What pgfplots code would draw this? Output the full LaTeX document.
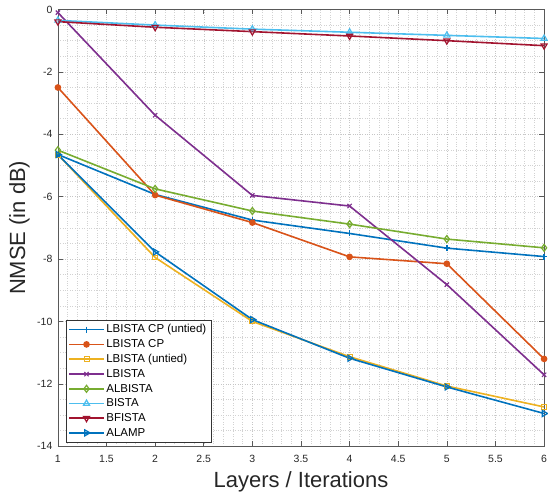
\documentclass[border=0pt]{standalone}
\usepackage{pgfplots}
\pgfplotsset{compat=1.18}
\usepackage{fontspec}
\setmainfont{Liberation Sans}
\definecolor{c1}{rgb}{0,0.447,0.741}
\definecolor{c2}{rgb}{0.85,0.325,0.098}
\definecolor{c3}{rgb}{0.929,0.694,0.125}
\definecolor{c4}{rgb}{0.494,0.184,0.556}
\definecolor{c5}{rgb}{0.466,0.674,0.188}
\definecolor{c6}{rgb}{0.301,0.745,0.933}
\definecolor{c7}{rgb}{0.635,0.078,0.184}
\begin{document}
\begin{tikzpicture}
\begin{axis}[
  name=ax,
  scale only axis,
  width=487pt, height=437.5pt,
  xmin=1, xmax=6, ymin=-14, ymax=0,
  xtick={1,1.5,...,6},
  ytick={-14,-12,...,0},
  minor x tick num=4,
  minor y tick num=3,
  grid=both,
  major grid style={gray!45, dotted, line width=0.5pt},
  minor grid style={gray!35, dotted, line width=0.4pt},
  axis line style={gray!70!black, line width=0.6pt},
  tick style={gray!70!black, line width=0.6pt},
  minor tick length=0pt,
  major tick length=5pt,
  tick align=inside,
  xtick pos=both, ytick pos=both,
  tick label style={font=\fontsize{10.5}{12}\selectfont, text=black!85},
  xticklabel style={inner sep=1pt, yshift=-8pt},
  yticklabel style={xshift=-2pt},
  /pgf/number format/assume math mode=true,
  xlabel={Layers / Iterations},
  ylabel={NMSE (in dB)},
  every axis x label/.style={at={([yshift=-36pt]axis description cs:0.5,0)}, anchor=center},
  every axis y label/.style={at={([xshift=-38.5pt]axis description cs:0,0.5)}, anchor=center, rotate=90},
  label style={font=\fontsize{22}{26}\selectfont, text=black!85},
  legend style={at={(0.0165,0.009)}, anchor=south west, font=\fontsize{11.5}{13}\selectfont,
    draw=black!80, line width=0.5pt, row sep=1.2pt, inner sep=2.5pt, cells={anchor=west}},
  legend image code/.code={\draw[mark repeat=2,mark phase=2] plot coordinates {(0cm,0cm) (0.6cm,0cm) (1.2cm,0cm)};},
  legend cell align=left,
  every axis plot/.append style={line width=1.6pt, mark size=3pt},
]
\addplot[c1, mark=+, mark options={line width=1.4pt}] coordinates {(1,-4.65) (2,-5.93) (3,-6.75) (4,-7.18) (5,-7.65) (6,-7.92)};
\addlegendentry{LBISTA CP (untied)}
\addplot[c2, mark=*, mark options={fill=c2}, mark size=2.5pt] coordinates {(1,-2.5) (2,-5.95) (3,-6.83) (4,-7.93) (5,-8.15) (6,-11.2)};
\addlegendentry{LBISTA CP}
\addplot[c3, mark=square, mark size=2.5pt, mark options={line width=1pt}] coordinates {(1,-4.65) (2,-7.95) (3,-10.0) (4,-11.13) (5,-12.07) (6,-12.74)};
\addlegendentry{LBISTA (untied)}
\addplot[c4, mark=x, mark options={line width=1.2pt}] coordinates {(1,-0.1) (2,-3.39) (3,-5.96) (4,-6.3) (5,-8.82) (6,-11.71)};
\addlegendentry{LBISTA}
\addplot[c5, mark=diamond, mark size=3.5pt, mark options={line width=1.2pt}] coordinates {(1,-4.51) (2,-5.75) (3,-6.46) (4,-6.88) (5,-7.36) (6,-7.64)};
\addlegendentry{ALBISTA}
\addplot[c6, mark=triangle, mark size=3.5pt, mark options={line width=1.2pt}] coordinates {(1,-0.35) (2,-0.5) (3,-0.63) (4,-0.73) (5,-0.83) (6,-0.93)};
\addlegendentry{BISTA}
\addplot[c7, mark=triangle, mark size=3.5pt, mark options={rotate=180, line width=1.2pt}] coordinates {(1,-0.39) (2,-0.57) (3,-0.71) (4,-0.85) (5,-1.0) (6,-1.16)};
\addlegendentry{BFISTA}
\addplot[c1, mark=triangle, mark size=3.5pt, mark options={rotate=-90, line width=1.2pt}] coordinates {(1,-4.65) (2,-7.77) (3,-9.94) (4,-11.18) (5,-12.1) (6,-12.95)};
\addlegendentry{ALAMP}
\end{axis}
\path ([xshift=-58pt,yshift=-53pt]ax.south west) rectangle ([xshift=3pt,yshift=9.5pt]ax.north east);
\end{tikzpicture}
\end{document}
